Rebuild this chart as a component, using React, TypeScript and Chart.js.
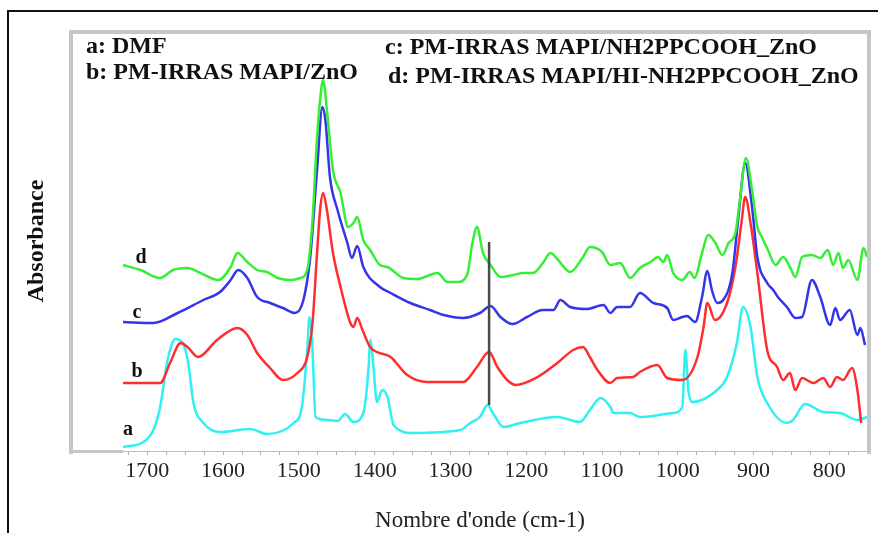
import React, { useEffect, useRef } from "react";
import { Chart, registerables } from "chart.js";

Chart.register(...registerables);

// ---- Data (wavenumber in cm-1, absorbance in arbitrary units) ----
const wavenumberA = [1732, 1705, 1692, 1683, 1674, 1663, 1653, 1646, 1639, 1626, 1604, 1564, 1542, 1507, 1496, 1489, 1486, 1482, 1478, 1462, 1449, 1439, 1428, 1415, 1408, 1406, 1402, 1397, 1390, 1383, 1375, 1349, 1287, 1274, 1261, 1251, 1244, 1230, 1208, 1159, 1129, 1116, 1102, 1089, 1085, 1063, 1050, 1006, 994, 990, 986, 981, 948, 935, 922, 914, 904, 895, 882, 856, 848, 832, 808, 786, 763, 750];
const absorbanceA = [5, 10, 22, 45, 89, 113, 109, 89, 49, 29, 20, 23, 18, 29, 45, 102, 135, 102, 35, 32, 31, 38, 30, 39, 85, 112, 89, 50, 62, 55, 27, 19, 22, 29, 35, 47, 39, 25, 29, 35, 30, 42, 54, 45, 39, 39, 35, 39, 45, 102, 62, 50, 62, 75, 109, 145, 125, 75, 49, 29, 32, 48, 40, 39, 32, 35];

const wavenumberB = [1732, 1683, 1670, 1656, 1647, 1633, 1608, 1581, 1568, 1555, 1538, 1521, 1502, 1489, 1482, 1476, 1472, 1468, 1463, 1455, 1445, 1432, 1428, 1423, 1416, 1406, 1379, 1357, 1331, 1300, 1283, 1265, 1249, 1238, 1225, 1214, 1185, 1159, 1138, 1125, 1116, 1106, 1089, 1080, 1059, 1050, 1027, 1014, 994, 974, 966, 961, 951, 935, 924, 916, 911, 904, 895, 882, 869, 861, 852, 845, 836, 821, 808, 799, 790, 782, 770, 763, 758];
const absorbanceB = [69, 69, 89, 109, 105, 95, 112, 124, 117, 99, 84, 72, 79, 95, 129, 199, 242, 259, 242, 199, 165, 129, 125, 134, 122, 105, 95, 77, 70, 70, 70, 85, 100, 85, 72, 67, 75, 89, 102, 105, 95, 82, 69, 74, 75, 80, 87, 74, 72, 95, 125, 149, 132, 149, 185, 229, 255, 229, 179, 102, 85, 72, 79, 62, 74, 69, 74, 65, 75, 72, 84, 62, 29];

const wavenumberC = [1732, 1692, 1660, 1626, 1604, 1590, 1580, 1568, 1555, 1538, 1521, 1505, 1494, 1485, 1476, 1469, 1465, 1459, 1449, 1436, 1430, 1423, 1415, 1393, 1379, 1353, 1327, 1309, 1283, 1261, 1247, 1234, 1218, 1199, 1178, 1164, 1155, 1142, 1120, 1098, 1089, 1080, 1063, 1050, 1032, 1014, 1006, 994, 988, 977, 968, 961, 955, 948, 940, 928, 920, 911, 902, 895, 882, 874, 868, 856, 845, 836, 823, 812, 799, 792, 786, 773, 763, 759, 753];
const absorbanceC = [130, 129, 139, 152, 160, 172, 182, 174, 155, 149, 144, 139, 152, 195, 282, 345, 332, 275, 242, 209, 194, 206, 185, 165, 159, 149, 142, 137, 134, 139, 146, 135, 128, 135, 142, 142, 152, 145, 143, 147, 139, 145, 145, 159, 149, 144, 132, 135, 136, 130, 155, 181, 162, 149, 152, 179, 235, 289, 245, 195, 169, 162, 155, 145, 134, 135, 172, 155, 127, 144, 132, 142, 117, 124, 107];

const wavenumberD = [1732, 1709, 1683, 1666, 1647, 1630, 1606, 1590, 1581, 1568, 1555, 1542, 1528, 1511, 1498, 1489, 1482, 1476, 1472, 1468, 1463, 1455, 1445, 1435, 1428, 1423, 1415, 1406, 1393, 1383, 1362, 1344, 1317, 1304, 1291, 1278, 1271, 1265, 1257, 1247, 1234, 1217, 1204, 1191, 1178, 1168, 1159, 1142, 1125, 1116, 1100, 1089, 1076, 1063, 1050, 1036, 1026, 1019, 1014, 1006, 994, 984, 978, 968, 960, 951, 941, 933, 924, 918, 910, 902, 895, 889, 881, 871, 861, 852, 845, 836, 823, 812, 802, 795, 788, 782, 775, 763, 755, 750];
const absorbanceD = [187, 182, 174, 182, 184, 179, 172, 185, 199, 190, 182, 180, 174, 172, 174, 182, 232, 315, 352, 372, 342, 282, 259, 225, 229, 235, 212, 202, 187, 185, 174, 173, 179, 170, 170, 177, 209, 225, 199, 187, 175, 177, 179, 179, 189, 199, 193, 180, 195, 205, 200, 187, 189, 174, 184, 190, 195, 190, 197, 179, 172, 180, 174, 199, 217, 210, 197, 209, 219, 252, 294, 262, 225, 215, 202, 187, 195, 185, 175, 195, 197, 194, 202, 187, 199, 184, 192, 172, 204, 195];

// vertical marker line at ~1249 cm-1
const markerWavenumber = [1249, 1249];
const markerAbsorbance = [47, 210];

const xTickValues = [775, 800, 825, 850, 875, 900, 925, 950, 975, 1000, 1025, 1050, 1075, 1100, 1125, 1150, 1175, 1200, 1225, 1250, 1275, 1300, 1325, 1350, 1375, 1400, 1425, 1450, 1475, 1500, 1525, 1550, 1575, 1600, 1625, 1650, 1675, 1700, 1725];

const legendLines = [
  "a: DMF",
  "b: PM-IRRAS MAPI/ZnO",
  "c: PM-IRRAS MAPI/NH2PPCOOH_ZnO",
  "d: PM-IRRAS MAPI/HI-NH2PPCOOH_ZnO",
];
const curveLetters = ["a", "b", "c", "d"];
const yTitle = "Absorbance";
const xTitle = "Nombre d'onde (cm-1)";

const SERIF = '"Liberation Serif", "Times New Roman", serif';

const toPoints = (xs: number[], ys: number[]) => xs.map((x, i) => ({ x, y: ys[i] }));

const decorPlugin = {
  id: "decor",
  afterDraw(chart: any) {
    const { ctx, chartArea, scales } = chart;
    const xs = scales.x;
    ctx.save();
    // outer black border
    ctx.fillStyle = "#111";
    ctx.fillRect(7, 10, 2, 523);
    ctx.fillRect(7, 10, 871, 2);
    // gray frame
    const dataStart = xs.getPixelForValue(1732);
    ctx.fillStyle = "#c6c6c6";
    ctx.fillRect(chartArea.left - 1, chartArea.top - 1, 4, chartArea.bottom - chartArea.top + 3);
    ctx.fillRect(chartArea.left - 1, chartArea.top - 1, chartArea.right - chartArea.left + 4, 4);
    ctx.fillRect(chartArea.right - 1, chartArea.top - 1, 4, chartArea.bottom - chartArea.top + 3);
    ctx.fillRect(chartArea.left - 1, chartArea.bottom - 2, dataStart - chartArea.left + 1, 3);
    ctx.fillStyle = "#bcbcbc";
    ctx.fillRect(dataStart, chartArea.bottom - 1, chartArea.right - dataStart, 1);

    // legend text
    ctx.fillStyle = "#111";
    ctx.font = `bold 24px ${SERIF}`;
    ctx.textAlign = "left";
    ctx.textBaseline = "alphabetic";
    ctx.fillText(legendLines[0], 86, 53);
    ctx.fillText(legendLines[1], 86, 79);
    ctx.fillText(legendLines[2], 385, 54);
    ctx.fillText(legendLines[3], 388, 83);

    // curve letters
    ctx.font = `bold 20px ${SERIF}`;
    ctx.textAlign = "center";
    ctx.fillText(curveLetters[0], 128, 435);
    ctx.fillText(curveLetters[1], 137, 377);
    ctx.fillText(curveLetters[2], 137, 318);
    ctx.fillText(curveLetters[3], 141, 263);

    // y title
    ctx.save();
    ctx.translate(37, 241);
    ctx.rotate(-Math.PI / 2);
    ctx.font = `bold 24px ${SERIF}`;
    ctx.textAlign = "center";
    ctx.textBaseline = "middle";
    ctx.fillText(yTitle, 0, 0);
    ctx.restore();

    // x title
    ctx.font = `23px ${SERIF}`;
    ctx.fillStyle = "#222";
    ctx.textAlign = "center";
    ctx.textBaseline = "middle";
    ctx.fillText(xTitle, 480, 521);
    ctx.restore();
  },
};

export default function App() {
  const canvasRef = useRef<HTMLCanvasElement>(null);

  useEffect(() => {
    if (!canvasRef.current) return;
    const line = (label: string, xs: number[], ys: number[], color: string, order: number) => ({
      label,
      data: toPoints(xs, ys),
      borderColor: color,
      backgroundColor: color,
      borderWidth: 2.5,
      pointRadius: 0,
      fill: false,
      cubicInterpolationMode: "monotone" as const,
      order,
    });
    const chart = new Chart(canvasRef.current, {
      type: "line",
      data: {
        datasets: [
          { ...line("marker", markerWavenumber, markerAbsorbance, "#4a4a4a", 0), borderWidth: 2.5, cubicInterpolationMode: "default" as const },
          line(legendLines[0], wavenumberA, absorbanceA, "#30f0f2", 4),
          line(legendLines[1], wavenumberB, absorbanceB, "#ff2e2e", 3),
          line(legendLines[2], wavenumberC, absorbanceC, "#3434e8", 2),
          line(legendLines[3], wavenumberD, absorbanceD, "#36ee36", 1),
        ],
      },
      options: {
        animation: false,
        responsive: false,
        layout: { padding: { left: 70, right: 10, top: 31, bottom: 45.6 } },
        plugins: {
          legend: { display: false },
          tooltip: { enabled: false },
          title: { display: false },
        },
        scales: {
          x: {
            type: "linear",
            reverse: true,
            min: 749,
            max: 1802,
            afterBuildTicks: (scale: any) => {
              scale.ticks = xTickValues.map((v) => ({ value: v }));
            },
            ticks: {
              autoSkip: false,
              maxRotation: 0,
              padding: 3,
              color: "#222",
              font: { family: SERIF, size: 22, lineHeight: 1.2 },
              callback: (v: any) => (Number(v) % 100 === 0 ? String(v) : ""),
            },
            grid: { drawOnChartArea: false, drawTicks: true, tickLength: 3, color: "#b0b0b0" },
            border: { display: false },
          },
          y: { display: false, min: 0, max: 421 },
        },
      },
      plugins: [decorPlugin],
    } as any);
    return () => chart.destroy();
  }, []);

  return (
    <div style={{ position: "fixed", left: 0, top: 0, width: 878, height: 533, background: "#fff" }}>
      <canvas ref={canvasRef} width={878} height={533} style={{ display: "block", width: 878, height: 533 }} />
    </div>
  );
}
